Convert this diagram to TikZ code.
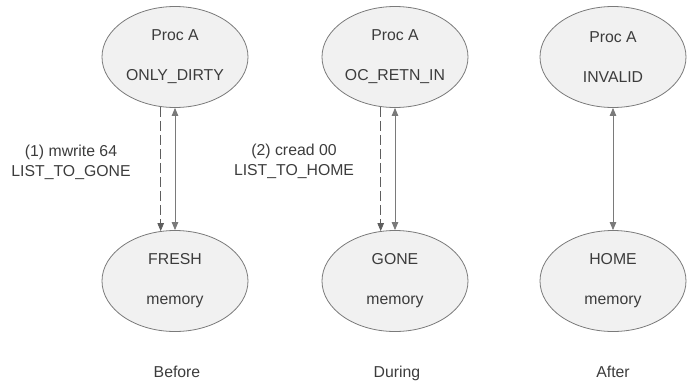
\documentclass[tikz,border=0pt]{standalone}
\usepackage{fontspec}
\setmainfont{Liberation Sans}
\usetikzlibrary{arrows.meta,shapes.geometric}
\definecolor{edgegray}{HTML}{7A7A7A}
\definecolor{dashgray}{HTML}{5E5E5E}
\definecolor{fillgray}{HTML}{F1F1F1}
\definecolor{textgray}{HTML}{3C3C3C}
\begin{document}
\begin{tikzpicture}[x=1pt,y=-1pt,
  state/.style={ellipse, draw=edgegray, fill=fillgray, line width=0.8pt,
    minimum width=146pt, minimum height=101pt, inner sep=0pt,
    align=center, text=textgray, font=\fontsize{15.8}{40}\selectfont},
  note/.style={align=center, text=textgray, font=\fontsize{15.8}{20}\selectfont},
  caption/.style={anchor=base, text=textgray, font=\fontsize{15.8}{18}\selectfont},
  tip/.style={Triangle[length=8pt,width=6.5pt]},
  link/.style={draw=edgegray, line width=0.8pt, -{Triangle[length=8pt,width=6.5pt]}},
  both/.style={link, {Triangle[length=8pt,width=6.5pt]}-{Triangle[length=8pt,width=6.5pt]}},
  msg/.style={link, draw=dashgray, dash pattern=on 10pt off 4pt}]
\useasboundingbox (0,0) rectangle (696,381);

% processor states (top row) and memory states (bottom row)
\node[state] (pa) at (175,57)  {Proc A\\ONLY\_DIRTY};
\node[state] (ma) at (175,281) {FRESH\\memory};
\node[state] (pb) at (395,57)  {Proc A\\OC\_RETN\_IN};
\node[state] (mb) at (395,281) {GONE\\memory};
\node[state] (pc) at (613,57)  {Proc A\\INVALID};
\node[state] (mc) at (613,281) {HOME\\memory};

% messages and links
\draw[msg]  (pa.254) -- (ma.106);
\draw[both] (pa.south) -- (ma.north);
\draw[msg]  (pb.254) -- (mb.106);
\draw[both] (pb.south) -- (mb.north);
\draw[both] (pc.south) -- (mc.north);

\node[note] (la) at (71,162)  {(1) mwrite 64\\LIST\_TO\_GONE};
\node[note] (lb) at (294,161) {(2) cread 00\\LIST\_TO\_HOME};

% phase captions
\node[caption] (ca) at (177,377) {Before};
\node[caption] (cb) at (397,377) {During};
\node[caption] (cc) at (613,377) {After};
\end{tikzpicture}
\end{document}
